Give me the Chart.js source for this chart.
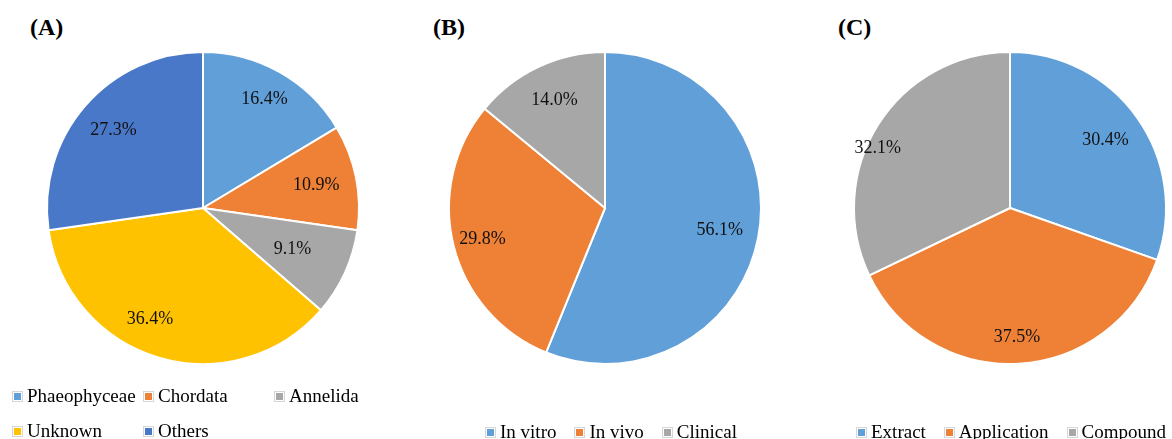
<!DOCTYPE html>
<html>
<head>
<meta charset="utf-8">
<script src="https://cdn.jsdelivr.net/npm/chart.js@4.4.1/dist/chart.umd.min.js"></script>
<style>
  html, body { margin: 0; padding: 0; background: #fff; overflow: hidden; }
  body { width: 1172px; height: 439px; position: relative; font-family: "Liberation Serif", "Times New Roman", serif; }
  canvas { position: absolute; }
  .panel-title { position: absolute; font-weight: bold; font-size: 24px; line-height: 24px; color: #000; }
  .legend { position: absolute; font-size: 19px; line-height: 20px; color: #000; white-space: nowrap; }
  .item { position: absolute; display: flex; align-items: center; height: 20px; }
  .item.flow { position: static; margin-right: 18px; }
  .swatch { width: 7px; height: 7px; padding: 1px; border: 1px solid #d6d6d6; background-clip: content-box; margin-right: 4px; }
</style>
</head>
<body>
<div class="panel-title" style="left:30px; top:15px;">(A)</div>
<div class="panel-title" style="left:433px; top:15px;">(B)</div>
<div class="panel-title" style="left:838px; top:15px;">(C)</div>

<canvas id="pieA" width="390" height="390" style="left:8px; top:13px;"></canvas>
<canvas id="pieB" width="390" height="390" style="left:410px; top:13px;"></canvas>
<canvas id="pieC" width="390" height="390" style="left:815px; top:13px;"></canvas>

<div id="legendA" class="legend" style="left:12px; top:386px;"></div>
<div id="legendB" class="legend" style="left:485px; top:422px; display:flex;"></div>
<div id="legendC" class="legend" style="left:856px; top:422px; display:flex;"></div>

<script>
// (A) taxonomic groups
const groupLabels = ['Phaeophyceae', 'Chordata', 'Annelida', 'Unknown', 'Others'];
const groupShares = [16.4, 10.9, 9.1, 36.4, 27.3];

// (B) study type
const studyLabels = ['In vitro', 'In vivo', 'Clinical'];
const studyShares = [56.1, 29.8, 14.0];

// (C) material type
const materialLabels = ['Extract', 'Application', 'Compound'];
const materialShares = [30.4, 37.5, 32.1];

const blue = '#619fd9';
const orange = '#ee8136';
const grey = '#a7a7a7';
const yellow = '#ffc200';
const darkBlue = '#4a78c8';

// label distance from centre, as fraction of radius (Excel "best fit" look)
const labelPlugin = {
    id: 'sliceLabels',
    afterDatasetsDraw(chart, args, opts) {
        const ctx = chart.ctx;
        const meta = chart.getDatasetMeta(0);
        const values = chart.data.datasets[0].data;
        ctx.save();
        ctx.font = '18px "Liberation Serif", "Times New Roman", serif';
        ctx.fillStyle = '#111';
        ctx.textAlign = 'center';
        ctx.textBaseline = 'middle';
        meta.data.forEach((arc, i) => {
            const p = arc.getProps(['x', 'y', 'startAngle', 'endAngle', 'outerRadius'], true);
            const mid = (p.startAngle + p.endAngle) / 2 + (opts.turn ? opts.turn[i] : 0);
            const r = p.outerRadius * (opts.radii ? opts.radii[i] : 0.77);
            ctx.fillText(values[i].toFixed(1) + '%', p.x + Math.cos(mid) * r, p.y + Math.sin(mid) * r);
        });
        ctx.restore();
    }
};

function makePie(id, labels, values, colors, radii, turn) {
    return new Chart(document.getElementById(id), {
        type: 'pie',
        data: {
            labels: labels,
            datasets: [{
                data: values,
                backgroundColor: colors,
                borderColor: '#ffffff',
                borderWidth: 2
            }]
        },
        options: {
            responsive: false,
            animation: false,
            radius: 156,
            layout: { padding: 0 },
            plugins: {
                legend: { display: false },
                tooltip: { enabled: false },
                sliceLabels: { radii: radii, turn: turn }
            }
        },
        plugins: [labelPlugin]
    });
}

makePie('pieA', groupLabels, groupShares, [blue, orange, grey, yellow, darkBlue],
    [0.80, 0.74, 0.63, 0.79, 0.76], [0, 0, 0, 0.16, 0]);
makePie('pieB', studyLabels, studyShares, [blue, orange, grey], [0.75, 0.81, 0.76]);
makePie('pieC', materialLabels, materialShares, [blue, orange, grey],
    [0.75, 0.83, 0.93], [0, 0, -0.14]);

function legendItem(label, color) {
    const item = document.createElement('div');
    item.className = 'item';
    const sw = document.createElement('span');
    sw.className = 'swatch';
    sw.style.backgroundColor = color;
    const txt = document.createElement('span');
    txt.textContent = label;
    item.appendChild(sw);
    item.appendChild(txt);
    return item;
}

// legend A: three columns, wraps to a second row like the Excel one
const legA = document.getElementById('legendA');
groupLabels.forEach((label, i) => {
    const item = legendItem(label, [blue, orange, grey, yellow, darkBlue][i]);
    item.style.left = (i % 3) * 131 + 'px';
    item.style.top = Math.floor(i / 3) * 35 + 'px';
    legA.appendChild(item);
});

[['legendB', studyLabels], ['legendC', materialLabels]].forEach(([id, labels]) => {
    const leg = document.getElementById(id);
    labels.forEach((label, i) => {
        const item = legendItem(label, [blue, orange, grey][i]);
        item.classList.add('flow');
        leg.appendChild(item);
    });
});
</script>
</body>
</html>
